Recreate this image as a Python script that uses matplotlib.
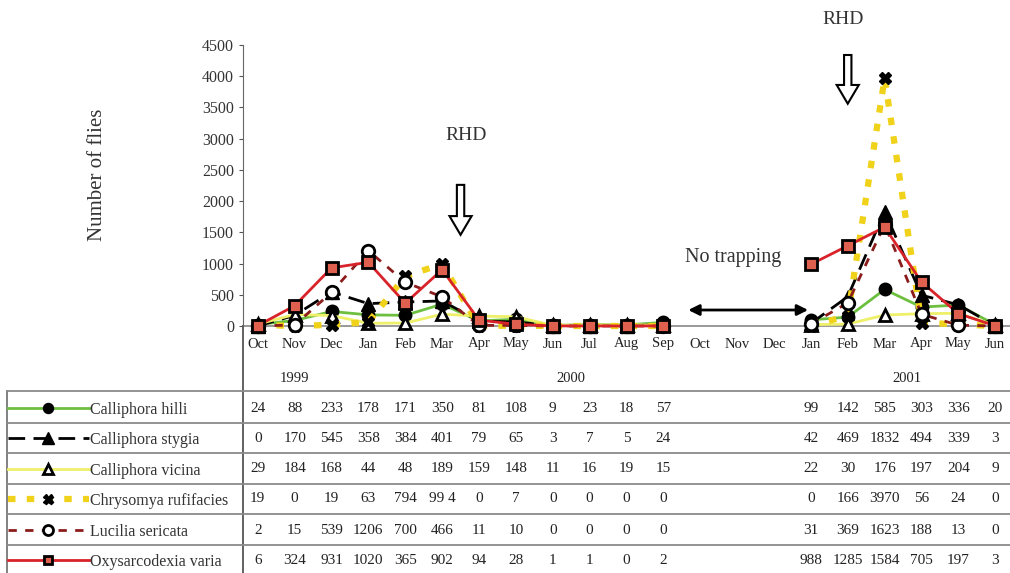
import matplotlib
matplotlib.use('Agg')
import matplotlib.pyplot as plt
import matplotlib.transforms as transforms
from matplotlib.lines import Line2D
from matplotlib.patches import FancyArrow

plt.rcParams['font.family'] = ['Liberation Serif', 'DejaVu Serif']

months = ['Oct', 'Nov', 'Dec', 'Jan', 'Feb', 'Mar', 'Apr', 'May', 'Jun', 'Jul', 'Aug', 'Sep',
          'Oct', 'Nov', 'Dec', 'Jan', 'Feb', 'Mar', 'Apr', 'May', 'Jun']
years = ['1999', '2000', '2001']
year_pos = [1, 8.5, 17.6]

# months with trapping: Oct 1999 - Sep 2000, Jan 2001 - Jun 2001
idx_a = list(range(0, 12))
idx_b = list(range(15, 21))

species = ['Calliphora hilli', 'Calliphora stygia', 'Calliphora vicina',
           'Chrysomya rufifacies', 'Lucilia sericata', 'Oxysarcodexia varia']

hilli = [24, 88, 233, 178, 171, 350, 81, 108, 9, 23, 18, 57, 99, 142, 585, 303, 336, 20]
stygia = [0, 170, 545, 358, 384, 401, 79, 65, 3, 7, 5, 24, 42, 469, 1832, 494, 339, 3]
vicina = [29, 184, 168, 44, 48, 189, 159, 148, 11, 16, 19, 15, 22, 30, 176, 197, 204, 9]
rufifacies = [19, 0, 19, 63, 794, 994, 0, 7, 0, 0, 0, 0, 0, 166, 3970, 56, 24, 0]
sericata = [2, 15, 539, 1206, 700, 466, 11, 10, 0, 0, 0, 0, 31, 369, 1623, 188, 13, 0]
varia = [6, 324, 931, 1020, 365, 902, 94, 28, 1, 1, 0, 2, 988, 1285, 1584, 705, 197, 3]

# table text for Chrysomya Mar 2000 is printed "99 4" in the source
table_labels = {3: {5: '99 4'}}

series = [hilli, stygia, vicina, rufifacies, sericata, varia]
styles = [
    dict(color='#6cbf3f', ls='-', lw=2, marker='o', mfc='black', mec='black', ms=9),
    dict(color='black', ls=(0, (6, 3)), lw=2, marker='^', mfc='black', mec='black', ms=10),
    dict(color='#eef06a', ls='-', lw=2, marker='^', mfc='white', mec='black', ms=9, mew=2),
    dict(color='#f0d21a', ls=(0, (1.2, 1.8)), lw=4.5, marker='X', mfc='black', mec='black', ms=9),
    dict(color='#8b1c1c', ls=(0, (3, 3)), lw=2, marker='o', mfc='white', mec='black', ms=9, mew=2),
    dict(color='#d8232a', ls='-', lw=2, marker='s', mfc='#e06050', mec='black', ms=8, mew=2),
]

fig = plt.figure(figsize=(10.1, 5.73), dpi=100)
W, H = 1010.0, 573.0
ax = fig.add_axes([243 / W, 1 - 326 / H, 1 - 243 / W, (326 - 45) / H])

xs = idx_a + idx_b
order = [3, 4, 5, 2, 0, 1]
for k in order:
    vals = series[k]
    st = styles[k]
    for part in (slice(0, 12), slice(12, 18)):
        ax.plot(xs[part], vals[part], clip_on=False, zorder=3 + k * 0.1, **st)

ax.set_xlim(-0.4, 20.4)
ax.set_ylim(0, 4500)
ax.set_yticks(range(0, 4501, 500))
ax.tick_params(axis='y', labelsize=11.5, length=3, colors='#555555', labelcolor='#333333')
ax.set_xticks([])
for s in ['top', 'right']:
    ax.spines[s].set_visible(False)
ax.spines['left'].set_color('#666666')
ax.spines['bottom'].set_color('#888888')
ax.spines['bottom'].set_linewidth(1.2)
ax.patch.set_alpha(0)

fig.text(97 / W, 1 - 175 / H, 'Number of flies', rotation=90, ha='center', va='center',
         fontsize=15, color='#333333')

# month and year labels
tr = transforms.blended_transform_factory(ax.transData, fig.transFigure)
for i, m in enumerate(months):
    fig.text(i, 1 - 344 / H, m, transform=tr, ha='center', va='center', fontsize=10.5, color='#222222')
for yr, p in zip(years, year_pos):
    fig.text(p, 1 - 378 / H, yr, transform=tr, ha='center', va='center', fontsize=10.5, color='#222222')

# RHD annotations
ax.text(5.65, 3043, 'RHD', ha='center', va='center', fontsize=14, color='#333333')
ax.add_patch(FancyArrow(5.5, 2260, 0, -800, width=0.2, head_width=0.6, head_length=300,
                        length_includes_head=True, fc='white', ec='black', lw=1.5, clip_on=False))
fig.text(843 / W, 1 - 20 / H, 'RHD', ha='center', va='center', fontsize=14, color='#333333')
ax.add_patch(FancyArrow(16.0, 4340, 0, -780, width=0.2, head_width=0.6, head_length=300,
                        length_includes_head=True, fc='white', ec='black', lw=1.5, clip_on=False))

ax.text(12.9, 1089, 'No trapping', ha='center', va='center', fontsize=14.5, color='#333333')
ax.annotate('', xy=(11.6, 256), xytext=(15.0, 256),
            arrowprops=dict(arrowstyle='<|-|>', color='black', lw=2, mutation_scale=16))

# table frame
fig.add_artist(Line2D([243 / W, 243 / W], [0, 1 - 326 / H], color='#555555', lw=1.3))
fig.add_artist(Line2D([7 / W, 7 / W], [0, 1 - 391 / H], color='#777777', lw=1.3))
row_lines = [391, 423, 453, 484, 514, 545]
for py in row_lines:
    fig.add_artist(Line2D([7 / W, 1], [1 - py / H] * 2, color='#8a8a8a', lw=1.3))

row_centers = [408, 438, 469, 499, 530, 560]
for k, (name, vals, st, py) in enumerate(zip(species, series, styles, row_centers)):
    yf = 1 - py / H
    fig.add_artist(Line2D([8 / W, 89 / W], [yf, yf], color=st['color'], ls=st['ls'], lw=st['lw']))
    fig.add_artist(Line2D([48 / W], [yf], marker=st['marker'], mfc=st['mfc'], mec=st['mec'],
                          ms=st['ms'] * 0.8, mew=st.get('mew', 1), ls='none'))
    fig.text(90 / W, yf - 0.004, name, ha='left', va='center', fontsize=11.5, color='#333333')
    for j, (x, v) in enumerate(zip(xs, vals)):
        lab = table_labels.get(k, {}).get(x, str(v))
        fig.text(x, yf, lab, transform=tr, ha='center', va='center', fontsize=11, color='#222222')

fig.savefig('out.png', dpi=100)
